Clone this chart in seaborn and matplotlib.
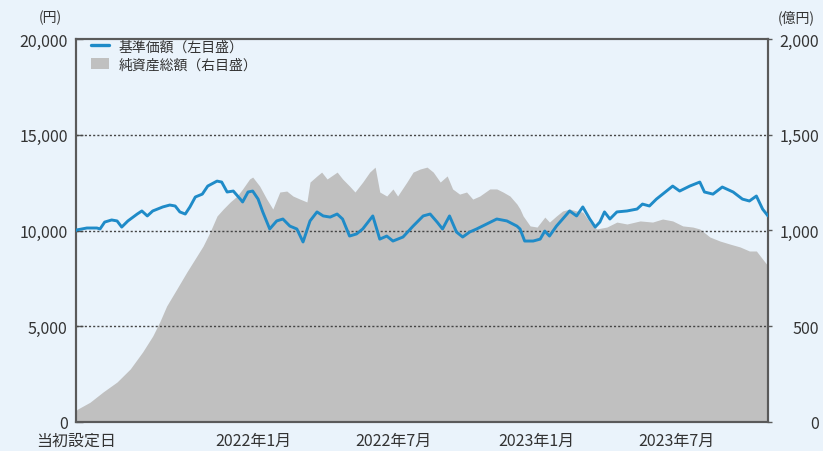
import numpy as np
import pandas as pd
import matplotlib
matplotlib.use("Agg")
import matplotlib.pyplot as plt
from matplotlib.lines import Line2D
from matplotlib.patches import Patch
import seaborn as sns

# ---- data ----
launch = pd.Timestamp("2021-05-17")

# 基準価額 (円), days since launch
nav_days = [0, 1, 14, 27, 31, 37, 46, 53, 59, 67, 79, 85, 92, 99, 112, 121, 128,
            134, 141, 147, 154, 163, 170, 182, 188, 195, 203, 212, 215, 222, 228,
            235, 241, 250, 259, 267, 276, 285, 293, 302, 311, 319, 328, 337, 344,
            353, 362, 370, 383, 392, 401, 409, 422, 435, 448, 457, 466, 473, 482,
            491, 499, 508, 517, 530, 543, 556, 569, 573, 579, 590, 599, 605, 611,
            620, 628, 637, 646, 654, 663, 670, 676, 682, 689, 698, 711, 724, 731,
            740, 749, 762, 770, 779, 792, 805, 811, 822, 834, 848, 860, 869, 878,
            886, 893]
nav_values = [10000, 10030, 10130, 10130, 10080, 10440, 10550, 10500, 10180, 10500,
              10860, 11020, 10760, 11020, 11230, 11330, 11280, 10970, 10860, 11230,
              11750, 11900, 12320, 12580, 12530, 12010, 12060, 11640, 11490, 12010,
              12060, 11640, 10970, 10080, 10500, 10600, 10230, 10080, 9400, 10500,
              10970, 10760, 10700, 10860, 10600, 9710, 9820, 10080, 10760, 9550,
              9710, 9450, 9660, 10230, 10760, 10860, 10440, 10080, 10760, 9920,
              9660, 9920, 10080, 10340, 10600, 10500, 10230, 10080, 9450, 9450,
              9550, 9970, 9710, 10230, 10600, 11020, 10760, 11230, 10600, 10180,
              10440, 10970, 10600, 10970, 11020, 11120, 11380, 11280, 11640, 12060,
              12320, 12060, 12320, 12530, 12010, 11900, 12270, 12010, 11640, 11540,
              11800, 11120, 10760]

# 純資産総額 (億円), days since launch
aum_days = [0, 1, 18, 35, 53, 70, 86, 99, 108, 117, 130, 143, 156, 164, 173, 182,
            190, 199, 208, 215, 224, 228, 237, 246, 254, 263, 272, 280, 289, 298,
            302, 311, 317, 324, 337, 344, 353, 360, 370, 379, 386, 392, 401, 409,
            415, 427, 435, 444, 453, 461, 470, 479, 486, 495, 504, 512, 521, 534,
            543, 551, 560, 569, 573, 577, 586, 595, 605, 611, 620, 628, 637, 646,
            654, 663, 672, 685, 698, 711, 728, 744, 757, 770, 783, 796, 805, 818,
            831, 844, 857, 869, 878, 886, 893]
aum_values = [45, 65, 103, 157, 209, 277, 366, 449, 522, 606, 694, 783, 867, 919,
              992, 1076, 1112, 1149, 1180, 1217, 1269, 1279, 1232, 1165, 1112, 1201,
              1206, 1180, 1164, 1149, 1253, 1285, 1305, 1269, 1305, 1269, 1232, 1201,
              1253, 1305, 1331, 1201, 1180, 1217, 1180, 1253, 1305, 1321, 1331, 1305,
              1253, 1285, 1217, 1190, 1201, 1164, 1180, 1217, 1217, 1201, 1180, 1138,
              1112, 1076, 1024, 1018, 1070, 1044, 1076, 1102, 1112, 1102, 1096, 1044,
              1008, 1018, 1044, 1034, 1050, 1044, 1060, 1050, 1024, 1018, 1008, 966,
              945, 929, 914, 893, 893, 851, 815]

tick_dates = ["2021-05-17", "2022-01-01", "2022-07-01", "2023-01-01", "2023-07-01"]
tick_labels = ["当初設定日", "2022年1月", "2022年7月", "2023年1月", "2023年7月"]
left_ticks = [0, 5000, 10000, 15000, 20000]
right_ticks = [0, 500, 1000, 1500, 2000]
legend_labels = ["基準価額（左目盛）", "純資産総額（右目盛）"]

BG = "#eaf3fb"
BLUE = "#1f8bc8"
GRAY = "#c0c0c0"
SPINE = "#5a5a5a"
TEXT = "#333333"

nav = pd.DataFrame({"date": launch + pd.to_timedelta(nav_days, unit="D"),
                    "value": nav_values})
aum = pd.DataFrame({"date": launch + pd.to_timedelta(aum_days, unit="D"),
                    "value": aum_values})

sns.set_theme(style="white")
plt.rcParams["font.family"] = ["Noto Sans CJK JP", "DejaVu Sans"]

fig = plt.figure(figsize=(8.23, 4.52), dpi=100, facecolor=BG)
ax = fig.add_axes([76 / 823, 1 - 423 / 452, 692 / 823, 383 / 452])
ax2 = ax.twinx()

# net assets area on the right axis, behind everything
ax2.fill_between(aum["date"], 0, aum["value"], color=GRAY, linewidth=0)
ax2.set_ylim(0, 2000)
ax2.set_yticks(right_ticks)
ax2.set_yticklabels([f"{v:,}" for v in right_ticks])
ax2.tick_params(axis="y", direction="out", length=3, width=1, color=SPINE,
                labelsize=11.5, labelcolor=TEXT, pad=34)
for lab in ax2.get_yticklabels():
    lab.set_horizontalalignment("right")

ax.set_zorder(ax2.get_zorder() + 1)
ax.patch.set_visible(False)
ax2.patch.set_facecolor("white")

sns.lineplot(data=nav, x="date", y="value", ax=ax, color=BLUE, linewidth=2.1,
             zorder=3)
ax.set_ylim(0, 20000)
ax.set_xlim(nav["date"].iloc[0], nav["date"].iloc[-1])
ax.set_yticks(left_ticks)
ax.set_yticklabels([f"{v:,}" for v in left_ticks])
ax.set_xticks(pd.to_datetime(tick_dates))
ax.set_xticklabels(tick_labels)
ax.set_xlabel("")
ax.set_ylabel("")
ax.tick_params(axis="y", direction="in", length=5, width=1, color=SPINE,
               labelsize=11.5, labelcolor=TEXT, pad=6)
ax.tick_params(axis="x", direction="in", length=6, width=1, color=SPINE,
               labelsize=11.5, labelcolor=TEXT, pad=7)
ax.xaxis.get_major_ticks()[0].tick1line.set_visible(False)

for v in [5000, 10000, 15000]:
    ax.axhline(v, color="#444444", linestyle=(0, (1.5, 1.5)), linewidth=1.0,
               zorder=2)

for a in (ax, ax2):
    for s in a.spines.values():
        s.set_color(SPINE)
        s.set_linewidth(1.5)

fig.text(50 / 823, 1 - 18 / 452, "(円)", ha="center", va="center",
         fontsize=10, color=TEXT)
fig.text(796 / 823, 1 - 18 / 452, "(億円)", ha="center", va="center",
         fontsize=10, color=TEXT)

handles = [Line2D([0], [0], color=BLUE, linewidth=2.4),
           Patch(facecolor=GRAY, edgecolor="none")]
ax.legend(handles, legend_labels, loc="upper left",
          bbox_to_anchor=(0.005, 1.027), frameon=False, fontsize=10,
          handlelength=1.3, handleheight=0.9, labelspacing=0.25,
          handletextpad=0.7, borderpad=0.3, labelcolor=TEXT)

fig.savefig("out.png", dpi=100, facecolor=BG)
